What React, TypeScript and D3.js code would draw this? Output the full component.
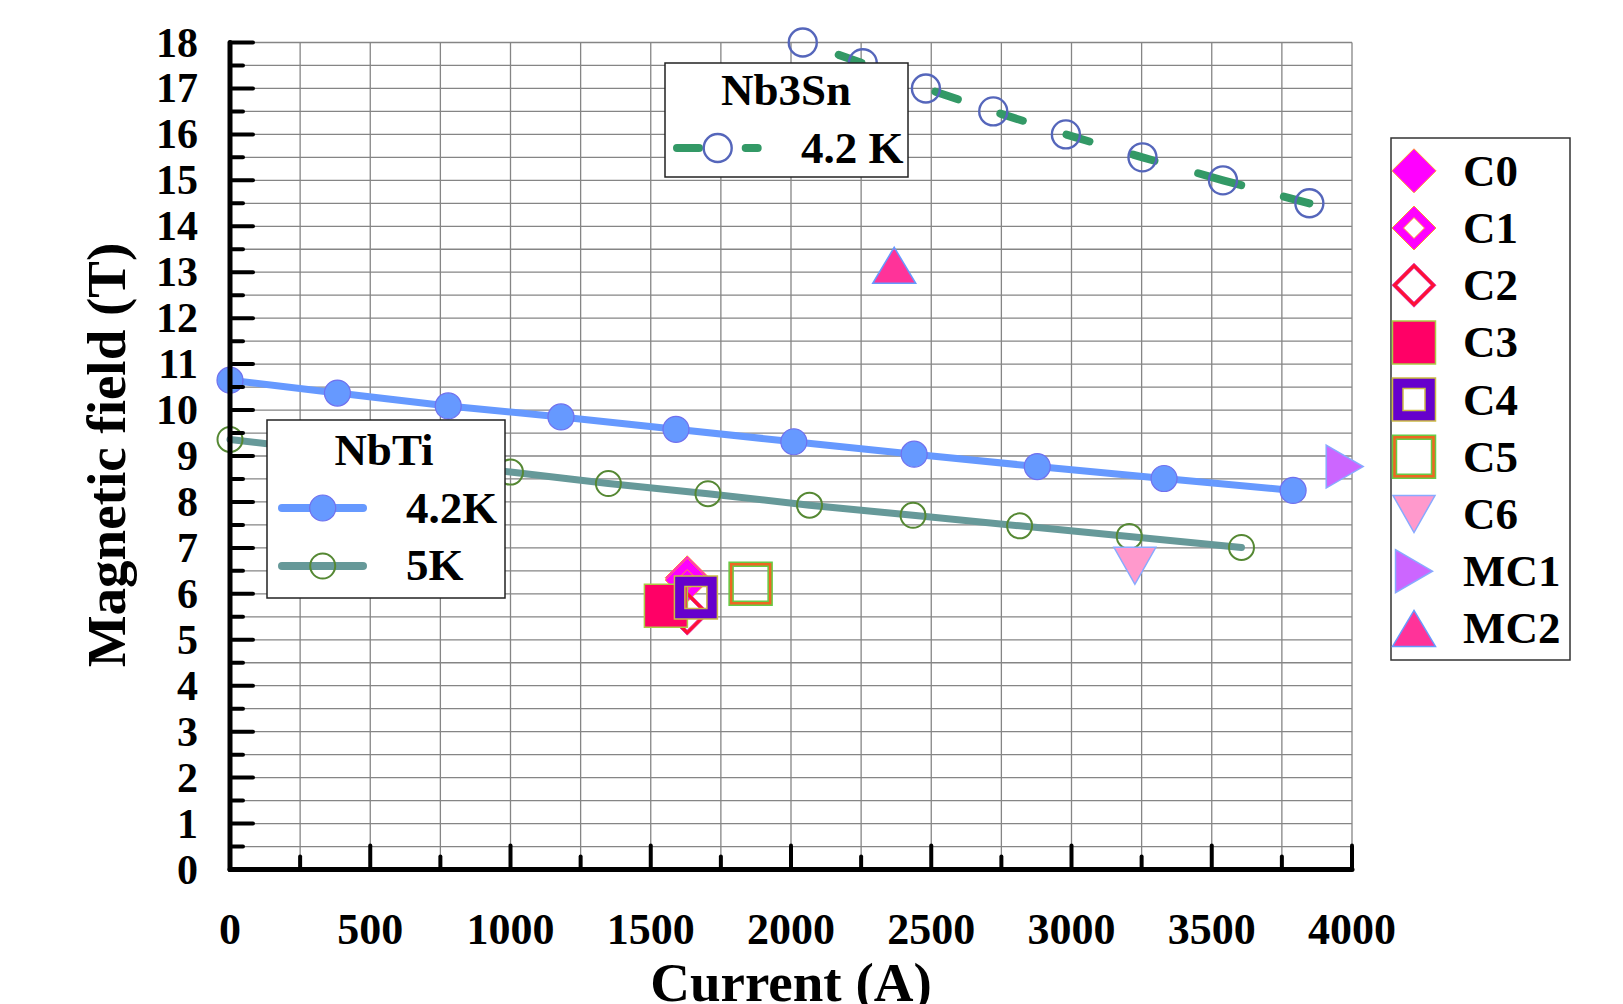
import * as d3 from "d3";

// NbTi, 4.2 K
const nbti42Current = [0, 383, 778, 1180, 1590, 2010, 2439, 2878, 3330, 3790];
const nbti42Field = [10.65, 10.37, 10.09, 9.85, 9.58, 9.31, 9.04, 8.77, 8.51, 8.25];
// NbTi, 5 K (two points sit behind the legend box)
const nbti5Current = [0, 325, 660, 1000, 1349, 1704, 2066, 2435, 2815, 3206, 3606];
const nbti5Field = [9.36, 9.13, 8.89, 8.65, 8.4, 8.18, 7.93, 7.71, 7.48, 7.25, 7.01];
// Nb3Sn, 4.2 K
const nb3snCurrent = [2042, 2256, 2481, 2721, 2980, 3253, 3540, 3848];
const nb3snField = [18.0, 17.55, 17.0, 16.5, 16.0, 15.5, 15.0, 14.5];

// single coil points
const coilNames = ["C0", "C1", "C2", "C3", "C4", "C5", "C6", "MC1", "MC2"];
const coilCurrent = [1630, 1630, 1630, 1554, 1661, 1856, 3226, 3974, 2368];
const coilField = [6.35, 6.3, 5.58, 5.74, 5.92, 6.22, 6.61, 8.77, 13.15];

const xTickLabels = [0, 500, 1000, 1500, 2000, 2500, 3000, 3500, 4000];
const yTickLabels = [0, 1, 2, 3, 4, 5, 6, 7, 8, 9, 10, 11, 12, 13, 14, 15, 16, 17, 18];

const W = 1623;
const H = 1004;
const font = "'Liberation Serif', 'Times New Roman', serif";

const x = d3.scaleLinear().domain([0, 4000]).range([230, 1352]);
const y = d3.scaleLinear().domain([0, 18]).range([869.5, 42.5]);

const diamond = (cx: number, cy: number, h: number) =>
  `M${cx},${cy - h}L${cx + h},${cy}L${cx},${cy + h}L${cx - h},${cy}Z`;
const square = (cx: number, cy: number, h: number) =>
  `M${cx - h},${cy - h}H${cx + h}V${cy + h}H${cx - h}Z`;

const marker = (name: string, cx: number, cy: number) => {
  switch (name) {
    case "C0":
      return { d: diamond(cx, cy, 22), fill: "#ff00ff", stroke: "#ff9933", sw: 1 };
    case "C1":
      return { d: diamond(cx, cy, 22) + diamond(cx, cy, 10.5), fill: "#ff00ff", stroke: "#ff9933", sw: 1 };
    case "C2":
      return { d: diamond(cx, cy, 22) + diamond(cx, cy, 17), fill: "#ff1133", stroke: "#dd22aa", sw: 0.8 };
    case "C3":
      return { d: square(cx, cy, 21.5), fill: "#ff0066", stroke: "#aacc44", sw: 1.5 };
    case "C4":
      return { d: square(cx, cy, 21.5) + square(cx, cy, 11), fill: "#6600cc", stroke: "#ccbb44", sw: 1.5 };
    case "C5":
      return { d: square(cx, cy, 21.5) + square(cx, cy, 17.5), fill: "#ee6622", stroke: "#66cc44", sw: 1.5 };
    case "C6":
      return { d: `M${cx - 21},${cy - 18.5}L${cx + 21},${cy - 18.5}L${cx},${cy + 18.5}Z`, fill: "#ff99cc", stroke: "#88aaff", sw: 1.5 };
    case "MC1":
      return { d: `M${cx - 18.5},${cy - 21.5}L${cx + 18.5},${cy}L${cx - 18.5},${cy + 21.5}Z`, fill: "#cc66ff", stroke: "#88aaff", sw: 1.5 };
    default:
      return { d: `M${cx},${cy - 18}L${cx + 21.5},${cy + 18}L${cx - 21.5},${cy + 18}Z`, fill: "#ff3399", stroke: "#6699ff", sw: 1.5 };
  }
};

const Marker = ({ name, cx, cy }: { name: string; cx: number; cy: number }) => {
  const m = marker(name, cx, cy);
  return <path d={m.d} fill={m.fill} stroke={m.stroke} strokeWidth={m.sw} fillRule="evenodd" />;
};

const line = d3
  .line<[number, number]>()
  .x((d) => x(d[0]))
  .y((d) => y(d[1]));

const zip = (a: number[], b: number[]) => a.map((v, i) => [v, b[i]] as [number, number]);

const App = () => {
  const nbti42 = zip(nbti42Current, nbti42Field);
  const nbti5 = zip(nbti5Current, nbti5Field);
  const nb3sn = zip(nb3snCurrent, nb3snField);

  const xGrid = d3.range(250, 4001, 250);
  const yGrid = d3.range(0.5, 18.01, 0.5);
  const xMinor = d3.range(250, 4000, 500);
  const yMinor = d3.range(0.5, 18, 1);

  // dash pattern of the Nb3Sn curve
  const nbDash = "24 79.5 23.7 44.8 23.6 45.8 24 45.6 22.2 45.5 44.6 44.2 27 100";

  return (
    <div style={{ position: "absolute", left: 0, top: 0 }}>
      <svg width={W} height={H} style={{ display: "block", background: "#fff" }}>
        {/* grid */}
        <g stroke="#858585" strokeWidth={1.3}>
          {xGrid.map((v) => (
            <line key={"gx" + v} x1={x(v)} x2={x(v)} y1={y(0)} y2={y(18)} />
          ))}
          {yGrid.map((v) => (
            <line key={"gy" + v} x1={x(0)} x2={x(4000)} y1={y(v)} y2={y(v)} />
          ))}
        </g>

        {/* curves */}
        <path d={line(nbti5) || ""} fill="none" stroke="#669999" strokeWidth={7} strokeLinecap="round" />
        <path d={line(nbti42) || ""} fill="none" stroke="#6699ff" strokeWidth={7} strokeLinecap="round" />
        <path
          d={line(nb3sn) || ""}
          fill="none"
          stroke="#339966"
          strokeWidth={8}
          strokeLinecap="round"
          strokeDasharray={nbDash}
          strokeDashoffset={556.5}
        />
        {nbti5.map((d, i) => (
          <circle key={"c5" + i} cx={x(d[0])} cy={y(d[1])} r={12.5} fill="none" stroke="#558833" strokeWidth={2} />
        ))}
        {nbti42.map((d, i) => (
          <circle key={"c4" + i} cx={x(d[0])} cy={y(d[1])} r={13} fill="#6699ff" stroke="#7070ee" strokeWidth={1.2} />
        ))}
        {nb3sn.map((d, i) => (
          <circle key={"cn" + i} cx={x(d[0])} cy={y(d[1])} r={14} fill="none" stroke="#5566bb" strokeWidth={2.4} />
        ))}

        {/* coil points */}
        {coilNames.map((n, i) => (
          <Marker key={n} name={n} cx={x(coilCurrent[i])} cy={y(coilField[i])} />
        ))}

        {/* axes */}
        <g stroke="#000" strokeLinecap="round">
          <line x1={x(0)} x2={x(0)} y1={y(18)} y2={y(0)} strokeWidth={5} />
          <line x1={x(0)} x2={x(4000)} y1={y(0)} y2={y(0)} strokeWidth={5} />
          {yTickLabels.map((v) => (
            <line key={"yt" + v} x1={x(0)} x2={x(0) + 23} y1={y(v)} y2={y(v)} strokeWidth={4} />
          ))}
          {yMinor.map((v) => (
            <line key={"ym" + v} x1={x(0)} x2={x(0) + 13} y1={y(v)} y2={y(v)} strokeWidth={4} />
          ))}
          {xTickLabels.map((v) => (
            <line key={"xt" + v} x1={x(v)} x2={x(v)} y1={y(0)} y2={y(0) - 24} strokeWidth={4} />
          ))}
          {xMinor.map((v) => (
            <line key={"xm" + v} x1={x(v)} x2={x(v)} y1={y(0)} y2={y(0) - 13} strokeWidth={4} />
          ))}
        </g>
        <g fontFamily={font} fontWeight="bold" fill="#000">
          {yTickLabels.map((v) => (
            <text key={"yl" + v} x={198} y={y(v)} dy={14} fontSize={42} textAnchor="end">
              {v}
            </text>
          ))}
          {xTickLabels.map((v) => (
            <text key={"xl" + v} x={x(v)} y={944} fontSize={44} textAnchor="middle">
              {v}
            </text>
          ))}
          <text x={791} y={1001} fontSize={55} textAnchor="middle">
            Current (A)
          </text>
          <text transform="translate(125,455) rotate(-90)" fontSize={55} textAnchor="middle">
            Magnetic field (T)
          </text>
        </g>

        {/* NbTi legend */}
        <g fontFamily={font} fontWeight="bold" fontSize={45}>
          <rect x={267} y={420} width={238} height={178} fill="#fff" stroke="#222" strokeWidth={1.5} />
          <text x={384} y={465} textAnchor="middle">NbTi</text>
          <line x1={282} x2={363} y1={508} y2={508} stroke="#6699ff" strokeWidth={8} strokeLinecap="round" />
          <circle cx={322.7} cy={508} r={13} fill="#6699ff" stroke="#7070ee" strokeWidth={1.2} />
          <text x={406} y={523}>4.2K</text>
          <line x1={282} x2={363} y1={566} y2={566} stroke="#669999" strokeWidth={8} strokeLinecap="round" />
          <circle cx={322.7} cy={566} r={12.5} fill="none" stroke="#558833" strokeWidth={2} />
          <text x={406} y={580}>5K</text>
        </g>

        {/* Nb3Sn legend */}
        <g fontFamily={font} fontWeight="bold" fontSize={45}>
          <rect x={665} y={63} width={243} height={114} fill="#fff" stroke="#222" strokeWidth={1.5} />
          <text x={786} y={105} textAnchor="middle">Nb3Sn</text>
          <line
            x1={677}
            x2={758}
            y1={148}
            y2={148}
            stroke="#339966"
            strokeWidth={8}
            strokeLinecap="round"
            strokeDasharray="22 46.7 12 100"
          />
          <circle cx={717.7} cy={148} r={14} fill="none" stroke="#5566bb" strokeWidth={2.4} />
          <text x={801} y={163}>4.2 K</text>
        </g>

        {/* coil legend */}
        <g fontFamily={font} fontWeight="bold" fontSize={45}>
          <rect x={1391} y={138} width={179} height={522} fill="#fff" stroke="#333" strokeWidth={1.5} />
          {coilNames.map((n, i) => {
            const cy = 170.8 + i * 57.2;
            return (
              <g key={"lg" + n}>
                <Marker name={n} cx={1414} cy={cy} />
                <text x={1463} y={cy + 15}>{n}</text>
              </g>
            );
          })}
        </g>
      </svg>
    </div>
  );
};

export default App;
